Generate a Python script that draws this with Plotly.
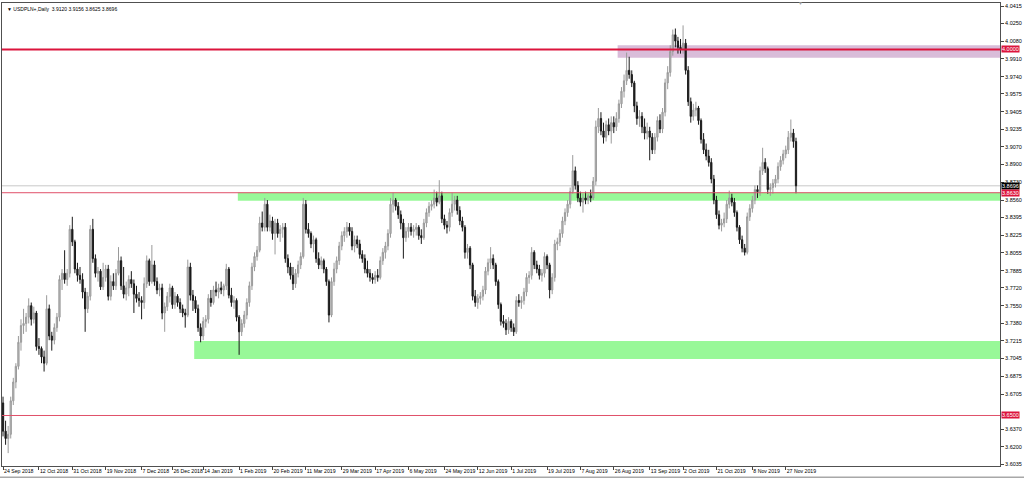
import plotly.graph_objects as go
import pandas as pd

# ---------------- data ----------------
open_ = [3.662, 3.635, 3.628, 3.632, 3.664, 3.682, 3.697, 3.720, 3.736, 3.738,
         3.744, 3.755, 3.742, 3.748, 3.716, 3.714, 3.706, 3.700, 3.752, 3.726,
         3.722, 3.734, 3.744, 3.780, 3.786, 3.780, 3.786, 3.828, 3.816, 3.790,
         3.784, 3.780, 3.768, 3.752, 3.764, 3.828, 3.800, 3.786, 3.788, 3.773,
         3.782, 3.790, 3.764, 3.778, 3.774, 3.786, 3.798, 3.774, 3.766, 3.772,
         3.780, 3.776, 3.766, 3.762, 3.760, 3.758, 3.776, 3.798, 3.778, 3.794,
         3.778, 3.770, 3.772, 3.748, 3.754, 3.764, 3.772, 3.756, 3.764, 3.758,
         3.752, 3.748, 3.746, 3.792, 3.765, 3.760, 3.752, 3.734, 3.726, 3.740,
         3.742, 3.762, 3.758, 3.770, 3.768, 3.772, 3.770, 3.774, 3.790, 3.765,
         3.758, 3.760, 3.744, 3.730, 3.738, 3.746, 3.758, 3.774, 3.792, 3.802,
         3.808, 3.834, 3.830, 3.852, 3.830, 3.836, 3.824, 3.834, 3.824, 3.828,
         3.830, 3.800, 3.792, 3.784, 3.776, 3.786, 3.794, 3.802, 3.852, 3.828,
         3.824, 3.814, 3.818, 3.800, 3.794, 3.798, 3.790, 3.778, 3.746, 3.778,
         3.790, 3.798, 3.812, 3.822, 3.826, 3.830, 3.826, 3.812, 3.818, 3.814,
         3.804, 3.800, 3.790, 3.786, 3.782, 3.780, 3.784, 3.782, 3.798, 3.806,
         3.812, 3.824, 3.852, 3.856, 3.850, 3.842, 3.834, 3.820, 3.826, 3.830,
         3.826, 3.828, 3.830, 3.822, 3.820, 3.834, 3.844, 3.850, 3.852, 3.858,
         3.854, 3.860, 3.838, 3.832, 3.830, 3.844, 3.852, 3.856, 3.846, 3.836,
         3.830, 3.806, 3.810, 3.794, 3.764, 3.758, 3.762, 3.764, 3.770, 3.788,
         3.796, 3.800, 3.794, 3.778, 3.756, 3.740, 3.738, 3.732, 3.740, 3.734,
         3.730, 3.760, 3.758, 3.760, 3.768, 3.782, 3.784, 3.806, 3.794, 3.790,
         3.784, 3.786, 3.802, 3.794, 3.770, 3.782, 3.814, 3.816, 3.824, 3.836,
         3.844, 3.852, 3.864, 3.884, 3.870, 3.858, 3.854, 3.858, 3.856, 3.860,
         3.858, 3.874, 3.926, 3.934, 3.922, 3.916, 3.928, 3.922, 3.930, 3.926,
         3.934, 3.948, 3.960, 3.970, 3.980, 3.976, 3.968, 3.946, 3.934, 3.936,
         3.926, 3.920, 3.922, 3.916, 3.904, 3.916, 3.932, 3.924, 3.940, 3.968,
         3.978, 3.998, 4.014, 4.008, 4.002, 4.000, 4.006, 3.980, 3.950, 3.936,
         3.942, 3.944, 3.932, 3.914, 3.904, 3.898, 3.892, 3.876, 3.856, 3.842,
         3.832, 3.834, 3.838, 3.852, 3.858, 3.854, 3.844, 3.830, 3.818, 3.810,
         3.806, 3.840, 3.848, 3.856, 3.866, 3.864, 3.884, 3.892, 3.886, 3.866,
         3.868, 3.872, 3.876, 3.888, 3.894, 3.900, 3.904, 3.916, 3.920, 3.9120]

high = [3.668, 3.645, 3.640, 3.668, 3.686, 3.700, 3.726, 3.742, 3.752, 3.748,
        3.762, 3.758, 3.754, 3.750, 3.724, 3.716, 3.712, 3.765, 3.756, 3.730,
        3.738, 3.748, 3.784, 3.790, 3.808, 3.790, 3.832, 3.840, 3.818, 3.796,
        3.792, 3.786, 3.772, 3.768, 3.832, 3.838, 3.804, 3.792, 3.790, 3.796,
        3.794, 3.794, 3.784, 3.786, 3.790, 3.811, 3.802, 3.792, 3.778, 3.784,
        3.788, 3.780, 3.774, 3.768, 3.764, 3.782, 3.803, 3.800, 3.813, 3.798,
        3.782, 3.776, 3.776, 3.758, 3.768, 3.776, 3.774, 3.768, 3.766, 3.762,
        3.756, 3.752, 3.799, 3.796, 3.770, 3.764, 3.756, 3.738, 3.744, 3.746,
        3.766, 3.770, 3.774, 3.778, 3.776, 3.778, 3.776, 3.795, 3.792, 3.772,
        3.764, 3.762, 3.746, 3.742, 3.750, 3.762, 3.778, 3.796, 3.806, 3.812,
        3.840, 3.845, 3.858, 3.856, 3.842, 3.840, 3.838, 3.838, 3.832, 3.834,
        3.834, 3.804, 3.796, 3.792, 3.790, 3.798, 3.806, 3.858, 3.856, 3.834,
        3.826, 3.822, 3.820, 3.806, 3.802, 3.800, 3.792, 3.780, 3.782, 3.796,
        3.802, 3.816, 3.826, 3.830, 3.835, 3.834, 3.830, 3.822, 3.822, 3.818,
        3.808, 3.804, 3.798, 3.790, 3.786, 3.788, 3.790, 3.802, 3.810, 3.816,
        3.828, 3.858, 3.863, 3.858, 3.854, 3.846, 3.838, 3.830, 3.834, 3.834,
        3.832, 3.834, 3.832, 3.828, 3.838, 3.848, 3.854, 3.856, 3.866, 3.864,
        3.875, 3.864, 3.842, 3.836, 3.848, 3.863, 3.860, 3.860, 3.850, 3.840,
        3.832, 3.814, 3.812, 3.796, 3.770, 3.766, 3.768, 3.774, 3.792, 3.800,
        3.811, 3.804, 3.796, 3.780, 3.758, 3.746, 3.742, 3.744, 3.742, 3.738,
        3.764, 3.766, 3.764, 3.772, 3.786, 3.788, 3.811, 3.808, 3.798, 3.794,
        3.790, 3.806, 3.804, 3.796, 3.786, 3.818, 3.820, 3.828, 3.840, 3.848,
        3.856, 3.868, 3.899, 3.888, 3.874, 3.864, 3.862, 3.864, 3.862, 3.866,
        3.878, 3.932, 3.944, 3.940, 3.930, 3.932, 3.934, 3.936, 3.936, 3.940,
        3.952, 3.964, 3.976, 3.997, 3.993, 3.980, 3.970, 3.950, 3.942, 3.940,
        3.934, 3.930, 3.926, 3.920, 3.920, 3.936, 3.938, 3.944, 3.972, 3.984,
        4.004, 4.019, 4.020, 4.012, 4.010, 4.023, 4.010, 3.984, 3.954, 3.948,
        3.950, 3.946, 3.934, 3.920, 3.910, 3.904, 3.896, 3.880, 3.860, 3.846,
        3.838, 3.844, 3.856, 3.865, 3.862, 3.858, 3.846, 3.832, 3.822, 3.814,
        3.844, 3.852, 3.860, 3.870, 3.870, 3.888, 3.906, 3.896, 3.888, 3.872,
        3.876, 3.880, 3.892, 3.898, 3.904, 3.908, 3.922, 3.933, 3.924, 3.9156]

low = [3.630, 3.622, 3.614, 3.628, 3.660, 3.676, 3.694, 3.712, 3.728, 3.730,
       3.738, 3.736, 3.738, 3.712, 3.708, 3.700, 3.692, 3.698, 3.722, 3.712,
       3.718, 3.730, 3.740, 3.770, 3.776, 3.774, 3.782, 3.812, 3.786, 3.778,
       3.776, 3.762, 3.730, 3.748, 3.760, 3.796, 3.782, 3.778, 3.770, 3.770,
       3.778, 3.760, 3.760, 3.770, 3.770, 3.784, 3.770, 3.762, 3.760, 3.764,
       3.772, 3.748, 3.758, 3.754, 3.742, 3.752, 3.772, 3.774, 3.776, 3.774,
       3.766, 3.764, 3.742, 3.730, 3.750, 3.758, 3.752, 3.752, 3.754, 3.748,
       3.744, 3.734, 3.744, 3.760, 3.750, 3.748, 3.730, 3.720, 3.722, 3.734,
       3.738, 3.754, 3.756, 3.764, 3.762, 3.766, 3.764, 3.770, 3.762, 3.754,
       3.752, 3.740, 3.708, 3.726, 3.734, 3.742, 3.754, 3.770, 3.788, 3.798,
       3.806, 3.826, 3.826, 3.826, 3.826, 3.818, 3.804, 3.820, 3.816, 3.820,
       3.796, 3.786, 3.780, 3.770, 3.772, 3.782, 3.790, 3.800, 3.824, 3.820,
       3.810, 3.806, 3.796, 3.790, 3.790, 3.786, 3.774, 3.739, 3.744, 3.774,
       3.786, 3.794, 3.808, 3.816, 3.820, 3.822, 3.808, 3.806, 3.810, 3.800,
       3.796, 3.786, 3.782, 3.778, 3.776, 3.776, 3.778, 3.780, 3.794, 3.800,
       3.808, 3.820, 3.844, 3.846, 3.838, 3.828, 3.800, 3.816, 3.820, 3.822,
       3.820, 3.822, 3.818, 3.814, 3.818, 3.830, 3.840, 3.846, 3.848, 3.850,
       3.852, 3.834, 3.828, 3.824, 3.826, 3.840, 3.846, 3.842, 3.832, 3.826,
       3.800, 3.800, 3.790, 3.760, 3.754, 3.752, 3.756, 3.760, 3.766, 3.784,
       3.790, 3.790, 3.774, 3.752, 3.736, 3.734, 3.727, 3.728, 3.730, 3.726,
       3.728, 3.754, 3.752, 3.756, 3.764, 3.776, 3.780, 3.790, 3.786, 3.780,
       3.778, 3.782, 3.790, 3.762, 3.766, 3.778, 3.808, 3.812, 3.820, 3.832,
       3.840, 3.848, 3.862, 3.866, 3.854, 3.850, 3.844, 3.852, 3.852, 3.854,
       3.856, 3.870, 3.920, 3.918, 3.910, 3.912, 3.918, 3.910, 3.920, 3.922,
       3.930, 3.944, 3.954, 3.966, 3.972, 3.964, 3.940, 3.928, 3.926, 3.920,
       3.914, 3.914, 3.894, 3.900, 3.900, 3.912, 3.920, 3.920, 3.936, 3.962,
       3.974, 3.994, 4.002, 3.996, 3.996, 3.996, 3.976, 3.946, 3.930, 3.932,
       3.936, 3.928, 3.910, 3.900, 3.894, 3.888, 3.872, 3.852, 3.838, 3.828,
       3.826, 3.830, 3.834, 3.848, 3.850, 3.840, 3.826, 3.814, 3.806, 3.803,
       3.804, 3.836, 3.844, 3.852, 3.858, 3.860, 3.880, 3.882, 3.862, 3.860,
       3.862, 3.868, 3.872, 3.884, 3.890, 3.896, 3.900, 3.912, 3.906, 3.8625]

close = [3.635, 3.628, 3.632, 3.664, 3.682, 3.697, 3.720, 3.736, 3.738, 3.744,
         3.755, 3.742, 3.748, 3.716, 3.714, 3.706, 3.700, 3.752, 3.726, 3.722,
         3.734, 3.744, 3.780, 3.786, 3.780, 3.786, 3.828, 3.816, 3.790, 3.784,
         3.780, 3.768, 3.752, 3.764, 3.828, 3.800, 3.786, 3.788, 3.773, 3.782,
         3.790, 3.764, 3.778, 3.774, 3.786, 3.798, 3.774, 3.766, 3.772, 3.780,
         3.776, 3.766, 3.762, 3.760, 3.758, 3.776, 3.798, 3.778, 3.794, 3.778,
         3.770, 3.772, 3.748, 3.754, 3.764, 3.772, 3.756, 3.764, 3.758, 3.752,
         3.748, 3.746, 3.792, 3.765, 3.760, 3.752, 3.734, 3.726, 3.740, 3.742,
         3.762, 3.758, 3.770, 3.768, 3.772, 3.770, 3.774, 3.790, 3.765, 3.758,
         3.760, 3.744, 3.730, 3.738, 3.746, 3.758, 3.774, 3.792, 3.802, 3.808,
         3.834, 3.830, 3.852, 3.830, 3.836, 3.824, 3.834, 3.824, 3.828, 3.830,
         3.800, 3.792, 3.784, 3.776, 3.786, 3.794, 3.802, 3.852, 3.828, 3.824,
         3.814, 3.818, 3.800, 3.794, 3.798, 3.790, 3.778, 3.746, 3.778, 3.790,
         3.798, 3.812, 3.822, 3.826, 3.830, 3.826, 3.812, 3.818, 3.814, 3.804,
         3.800, 3.790, 3.786, 3.782, 3.780, 3.784, 3.782, 3.798, 3.806, 3.812,
         3.824, 3.852, 3.856, 3.850, 3.842, 3.834, 3.820, 3.826, 3.830, 3.826,
         3.828, 3.830, 3.822, 3.820, 3.834, 3.844, 3.850, 3.852, 3.858, 3.854,
         3.860, 3.838, 3.832, 3.830, 3.844, 3.852, 3.856, 3.846, 3.836, 3.830,
         3.806, 3.810, 3.794, 3.764, 3.758, 3.762, 3.764, 3.770, 3.788, 3.796,
         3.800, 3.794, 3.778, 3.756, 3.740, 3.738, 3.732, 3.740, 3.734, 3.730,
         3.760, 3.758, 3.760, 3.768, 3.782, 3.784, 3.806, 3.794, 3.790, 3.784,
         3.786, 3.802, 3.794, 3.770, 3.782, 3.814, 3.816, 3.824, 3.836, 3.844,
         3.852, 3.864, 3.884, 3.870, 3.858, 3.854, 3.858, 3.856, 3.860, 3.858,
         3.874, 3.926, 3.934, 3.922, 3.916, 3.928, 3.922, 3.930, 3.926, 3.934,
         3.948, 3.960, 3.970, 3.980, 3.976, 3.968, 3.946, 3.934, 3.936, 3.926,
         3.920, 3.922, 3.916, 3.904, 3.916, 3.932, 3.924, 3.940, 3.968, 3.978,
         3.998, 4.014, 4.008, 4.002, 4.000, 4.006, 3.980, 3.950, 3.936, 3.942,
         3.944, 3.932, 3.914, 3.904, 3.898, 3.892, 3.876, 3.856, 3.842, 3.832,
         3.834, 3.838, 3.852, 3.858, 3.854, 3.844, 3.830, 3.818, 3.810, 3.806,
         3.840, 3.848, 3.856, 3.866, 3.864, 3.884, 3.892, 3.886, 3.866, 3.868,
         3.872, 3.876, 3.888, 3.894, 3.900, 3.904, 3.916, 3.920, 3.912, 3.8696]

holidays = ["2018-12-25", "2019-01-01"]

tick_dates = ["2018-09-24", "2018-10-12", "2018-10-31", "2018-11-19", "2018-12-07",
              "2018-12-26", "2019-01-14", "2019-02-01", "2019-02-20", "2019-03-11",
              "2019-03-29", "2019-04-17", "2019-05-06", "2019-05-24", "2019-06-12",
              "2019-07-01", "2019-07-19", "2019-08-07", "2019-08-26", "2019-09-13",
              "2019-10-02", "2019-10-21", "2019-11-08", "2019-11-27"]
tick_labels = ["24 Sep 2018", "12 Oct 2018", "31 Oct 2018", "19 Nov 2018", "7 Dec 2018",
               "26 Dec 2018", "14 Jan 2019", "1 Feb 2019", "20 Feb 2019", "11 Mar 2019",
               "29 Mar 2019", "17 Apr 2019", "6 May 2019", "24 May 2019", "12 Jun 2019",
               "1 Jul 2019", "19 Jul 2019", "7 Aug 2019", "26 Aug 2019", "13 Sep 2019",
               "2 Oct 2019", "21 Oct 2019", "8 Nov 2019", "27 Nov 2019"]

# right-axis ticks that are visible (3.8730 and 3.6540 sit under the price boxes)
y_ticks = [4.0415, 4.0250, 4.0080, 3.9910, 3.9740, 3.9575, 3.9405, 3.9235, 3.9070,
           3.8900, 3.8730, 3.8560, 3.8395, 3.8225, 3.8055, 3.7885, 3.7720, 3.7550,
           3.7380, 3.7215, 3.7045, 3.6875, 3.6705, 3.6370, 3.6200, 3.6035]

level_lines = [4.0000, 3.8630, 3.6500]
bid_price = 3.8696
purple_zone = (3.9920, 4.0040)
green_zone_upper = (3.8553, 3.8632)
green_zone_lower = (3.7041, 3.7213)
purple_start = "2019-08-28"
green_upper_start = "2019-02-01"
green_lower_start = "2019-01-09"
title_text = "USDPLN+,Daily  3.9120 3.9156 3.8625 3.8696"

# ---------------- bar positions (trading-day index) ----------------
days = pd.bdate_range("2018-09-24", "2019-12-31")
days = days[~days.isin(pd.to_datetime(holidays))][:len(close)]
xi = list(range(len(close)))


def pos(d):
    return int(days.get_loc(pd.Timestamp(d)))


tick_pos = [pos(d) for d in tick_dates]

X_MIN, X_MAX = -0.4, 388.5
Y_MIN, Y_MAX = 3.6017, 4.0444

fig = go.Figure(go.Candlestick(
    x=xi, open=open_, high=high, low=low, close=close,
    increasing=dict(line=dict(color="#9a9a9a", width=1), fillcolor="#bcbcbc"),
    decreasing=dict(line=dict(color="#1a1a1a", width=1), fillcolor="#1a1a1a"),
    whiskerwidth=0, hoverinfo="skip", showlegend=False,
))

shapes = []
# zones (background)
for (y0, y1), start, col in [
    (purple_zone, purple_start, "#d9bcd9"),
    (green_zone_upper, green_upper_start, "#98f898"),
    (green_zone_lower, green_lower_start, "#98f898"),
]:
    shapes.append(dict(type="rect", xref="x", yref="y", x0=pos(start) - 0.5, x1=X_MAX,
                       y0=y0, y1=y1, fillcolor=col, line=dict(width=0), layer="below"))
# bid line
shapes.append(dict(type="line", xref="paper", yref="y", x0=0, x1=1, y0=bid_price, y1=bid_price,
                   line=dict(color="#c8c8c8", width=1), layer="below"))
# horizontal levels
shapes.append(dict(type="line", xref="paper", yref="y", x0=0, x1=1, y0=level_lines[0], y1=level_lines[0],
                   line=dict(color="#dc143c", width=2)))
for lv in level_lines[1:]:
    shapes.append(dict(type="line", xref="paper", yref="y", x0=0, x1=1, y0=lv, y1=lv,
                       line=dict(color="#e0506a", width=1)))
# window bottom strip
shapes.append(dict(type="line", xref="paper", yref="paper", x0=-0.01, x1=1.03,
                   y0=-11.5 / 463, y1=-11.5 / 463, line=dict(color="#a8a8a8", width=2)))

annotations = []
for val, bg in [(level_lines[0], "#dc143c"), (bid_price, "#000000"),
                (level_lines[1], "#dc143c"), (level_lines[2], "#dc143c")]:
    annotations.append(dict(xref="paper", yref="y", x=1, y=val, xanchor="left", yanchor="middle",
                            xshift=1, text=f"{val:.4f}", showarrow=False, bgcolor=bg,
                            font=dict(color="white", size=5.5, family="Liberation Sans"),
                            borderpad=0))
annotations.append(dict(xref="paper", yref="paper", x=0, y=1, xanchor="left", yanchor="top",
                        xshift=3, yshift=-1, showarrow=False,
                        text="▼ " + title_text,
                        font=dict(color="#000", size=5.0, family="Liberation Sans")))
annotations.append(dict(xref="paper", yref="paper", x=(800 - 2) / 998, y=1, xanchor="center",
                        yanchor="bottom", yshift=-5, showarrow=False, text="▼",
                        font=dict(color="#a0a0a0", size=5)))

fig.update_layout(
    width=1024, height=478, autosize=False,
    margin=dict(l=2, r=24, t=3, b=12, autoexpand=False),
    paper_bgcolor="white", plot_bgcolor="white",
    font=dict(family="Liberation Sans, Arial", size=5.5, color="#000"),
    shapes=shapes, annotations=annotations, showlegend=False,
)
fig.update_xaxes(range=[X_MIN, X_MAX], tickvals=tick_pos, ticktext=tick_labels,
                 ticks="outside", ticklen=3, tickcolor="#444", tickwidth=1,
                 ticklabelposition="outside right", tickangle=0, automargin=False,
                 tickfont=dict(size=5.2, color="#000"),
                 showgrid=False, zeroline=False, showline=True, linecolor="#505050",
                 linewidth=1, mirror=True, rangeslider=dict(visible=False), fixedrange=True)
fig.update_yaxes(side="right", range=[Y_MIN, Y_MAX], tickvals=y_ticks,
                 ticktext=[f"{v:.4f}" for v in y_ticks], automargin=False,
                 ticks="outside", ticklen=3, tickcolor="#444", tickwidth=1,
                 tickfont=dict(size=5.5, color="#000"),
                 showgrid=False, zeroline=False, showline=True, linecolor="#505050",
                 linewidth=1, mirror=True, fixedrange=True)

fig.write_html("out.html", config={"displayModeBar": False},
               post_script="document.body.style.margin='0px';document.body.style.overflow='hidden';")
